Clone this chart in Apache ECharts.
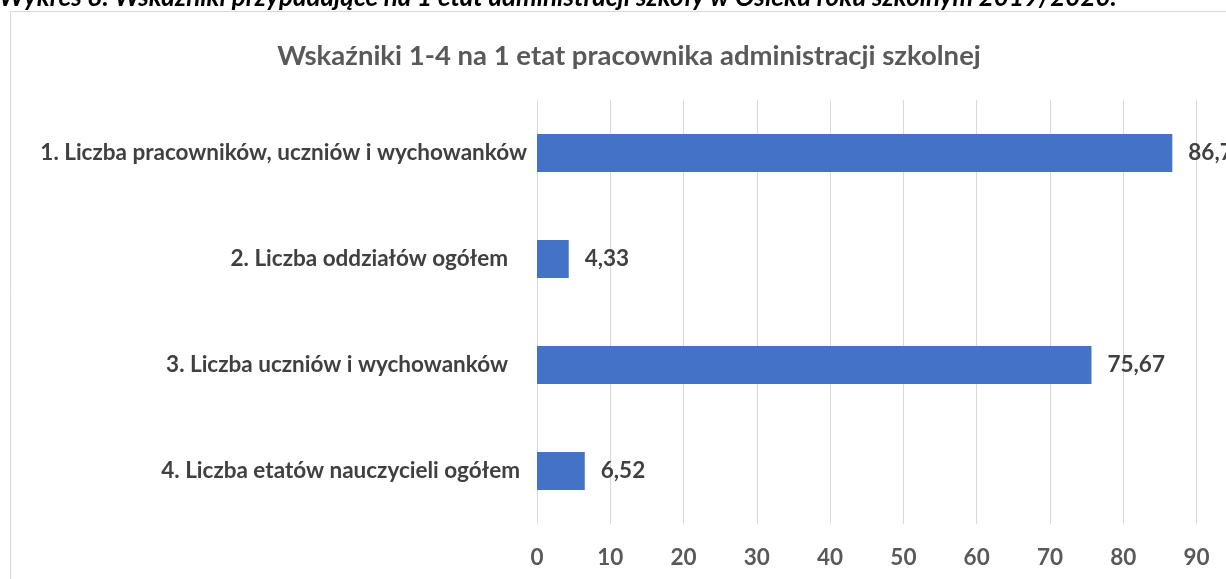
<!DOCTYPE html>
<html><head><meta charset="utf-8">
<script src="https://cdn.jsdelivr.net/npm/echarts@6/dist/echarts.min.js"></script>
<style>html,body{margin:0;padding:0;background:#fff;overflow:hidden}#c{width:1226px;height:579px}</style>
</head><body><div id="c"></div>
<script>
const heading = 'Wykres 8. Wskaźniki przypadające na 1 etat administracji szkoły w Osieku roku szkolnym 2019/2020.';
const chartTitle = 'Wskaźniki 1-4 na 1 etat pracownika administracji szkolnej';
const categories = [
  '1. Liczba pracowników, uczniów i wychowanków',
  '2. Liczba oddziałów ogółem',
  '3. Liczba uczniów i wychowanków',
  '4. Liczba etatów nauczycieli ogółem'
];
const values = [86.7, 4.33, 75.67, 6.52];
const xTicks = [0, 10, 20, 30, 40, 50, 60, 70, 80, 90];

const FONT = 'Lato';
const FS = 22.5;
const labelPad = [0, 19, 19, 7];
const rich = {};
labelPad.forEach((p, i) => { rich['a' + i] = {fontFamily: FONT, fontWeight: 'bold', fontSize: FS, color: '#404040', padding: [0, p, 0, 0]}; });

const chart = echarts.init(document.getElementById('c'), null, {renderer: 'canvas'});
chart.setOption({
  animation: false,
  backgroundColor: '#fff',
  title: {
    text: chartTitle, left: 624, top: 37, textAlign: 'center',
    textStyle: {fontFamily: FONT, fontWeight: 'bold', fontSize: 27.5, color: '#595959'}
  },
  graphic: [
    {type: 'rect', shape: {x: 10.5, y: 11.5, width: 1240, height: 600}, style: {fill: 'none', stroke: '#d9d9d9', lineWidth: 1}, z: -1},
    {type: 'text', x: -1, y: -2, style: {text: heading, fontFamily: FONT, fontStyle: 'italic', fontWeight: 'bold', fontSize: 26, fill: '#000', verticalAlign: 'middle'}}
  ],
  grid: {left: 537, right: 29.5, top: 100, bottom: 55, containLabel: false},
  xAxis: {
    type: 'value', min: xTicks[0], max: xTicks[xTicks.length - 1], interval: 10,
    axisLine: {show: false}, axisTick: {show: false},
    splitLine: {lineStyle: {color: '#d9d9d9', width: 1}},
    axisLabel: {margin: 22, fontFamily: FONT, fontWeight: 'bold', fontSize: FS, color: '#595959'}
  },
  yAxis: {
    type: 'category', inverse: true, data: categories,
    axisLine: {show: false}, axisTick: {show: false},
    axisLabel: {margin: 10, formatter: (v, i) => '{a' + i + '|' + v + '}', rich: rich}
  },
  series: [{
    type: 'bar', data: values, barCategoryGap: '64%',
    itemStyle: {color: '#4472c4'},
    label: {show: true, position: 'right', distance: 16, fontFamily: FONT, fontWeight: 'bold', fontSize: FS, color: '#404040',
      formatter: p => String(p.value).replace('.', ',')}
  }]
});
</script></body></html>
